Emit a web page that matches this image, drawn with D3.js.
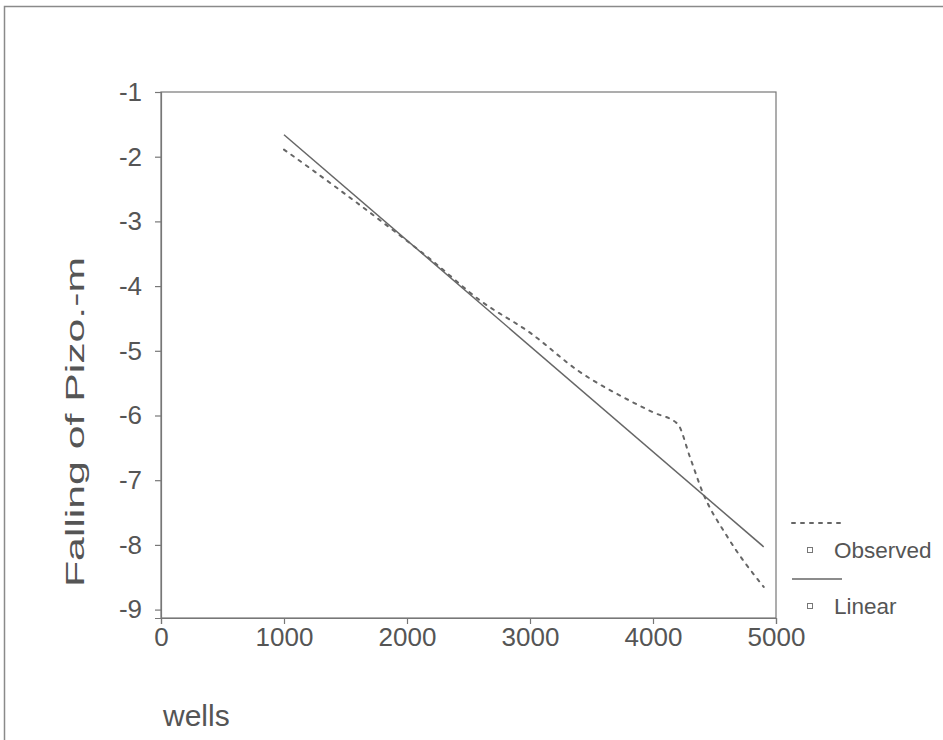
<!DOCTYPE html>
<html><head><meta charset="utf-8">
<script src="https://cdn.jsdelivr.net/npm/d3@7"></script>
<style>body{margin:0;background:#fff}svg{display:block;font-family:Arial,"Liberation Sans",sans-serif}</style>
</head><body>
<svg id="c" width="943" height="740"></svg>
<script>
const xTicks = [0, 1000, 2000, 3000, 4000, 5000];
const yTicks = [-1, -2, -3, -4, -5, -6, -7, -8, -9];
const obsX = [1000, 1400, 1800, 2200, 2600, 3000, 3400, 3800, 4000, 4200, 4300, 4400, 4600, 4900];
const obsY = [-1.89, -2.44, -3.01, -3.60, -4.23, -4.72, -5.32, -5.76, -5.95, -6.13, -6.64, -7.17, -7.86, -8.65];
const linX = [1000, 4900];
const linY = [-1.66, -8.03];
const seriesNames = ["Observed", "Linear"];

const svg = d3.select("#c");
const ink = "#555";
const font = "Arial, 'Liberation Sans', sans-serif";
const x = d3.scaleLinear().domain([0, 5000]).range([161, 776]);
const y = d3.scaleLinear().domain([-9.13, -1]).range([618, 92]);

// outer frame
svg.append("path").attr("d", "M4.5,745 L4.5,6.5 L950,6.5").attr("fill", "none").attr("stroke", "#8a8a8a").attr("stroke-width", 1.5);

// plot box
svg.append("rect").attr("x", 161).attr("y", 92).attr("width", 615).attr("height", 526)
  .attr("fill", "none").attr("stroke", "#777").attr("stroke-width", 1.2);

const xAxis = svg.append("g").attr("transform", "translate(0,618)")
  .call(d3.axisBottom(x).tickValues(xTicks).tickSize(6).tickPadding(4).tickFormat(d3.format("d")));
const yAxis = svg.append("g").attr("transform", "translate(161,0)")
  .call(d3.axisLeft(y).tickValues(yTicks).tickSize(6).tickPadding(13).tickFormat(d => String(d)));
[xAxis, yAxis].forEach(a => {
  a.attr("font-size", 26).attr("font-family", font);
  a.select(".domain").attr("stroke", "#777").attr("stroke-width", 1.2);
  a.selectAll(".tick line").attr("stroke", "#777").attr("stroke-width", 1.2);
  a.selectAll("text").attr("fill", ink).style("font-size", "26px");
});

const line = d3.line().x(d => x(d[0])).y(d => y(d[1]));
const obs = obsX.map((v, i) => [v, obsY[i]]);
const lin = linX.map((v, i) => [v, linY[i]]);

svg.append("path").datum(lin).attr("d", line).attr("fill", "none").attr("stroke", "#666").attr("stroke-width", 1.5);
svg.append("path").datum(obs).attr("d", line.curve(d3.curveMonotoneX)).attr("fill", "none")
  .attr("stroke", "#666").attr("stroke-width", 2).attr("stroke-dasharray", "3,6").attr("stroke-linecap", "round");

// axis titles
svg.append("text").attr("transform", "translate(84,422) rotate(-90)").attr("text-anchor", "middle")
  .attr("fill", ink).style("font-size", "26px").attr("textLength", 330).attr("lengthAdjust", "spacingAndGlyphs")
  .text("Falling of Pizo.-m");
svg.append("text").attr("x", 163).attr("y", 726).attr("fill", ink).style("font-size", "30px").text("wells");

// legend
const leg = svg.append("g");
const rows = [{y: 523, dash: "3,6", w: 2}, {y: 579, dash: null, w: 1.5}];
rows.forEach((r, i) => {
  const l = leg.append("line").attr("x1", 792).attr("x2", 842).attr("y1", r.y).attr("y2", r.y)
    .attr("stroke", "#666").attr("stroke-width", r.w);
  if (r.dash) l.attr("stroke-dasharray", r.dash).attr("stroke-linecap", "round");
  leg.append("rect").attr("x", 807.5).attr("y", r.y + 24.5).attr("width", 5).attr("height", 5)
    .attr("fill", "none").attr("stroke", "#777").attr("stroke-width", 1);
  leg.append("text").attr("x", 834).attr("y", r.y + 35).attr("fill", ink).style("font-size", "22.5px").text(seriesNames[i]);
});
</script>
</body></html>
